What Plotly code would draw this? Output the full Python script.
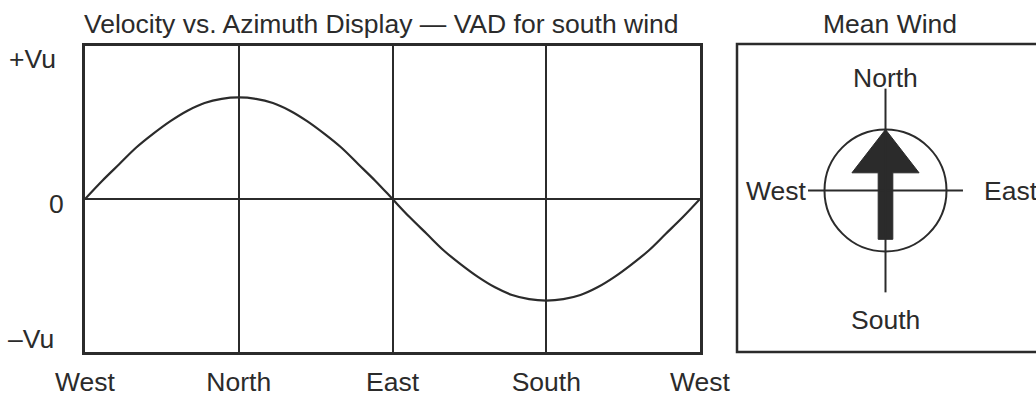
import plotly.graph_objects as go

# Azimuth samples (degrees, West = 0) and Doppler velocity (units of Vu)
azimuth_deg = [0, 10, 20, 30, 40, 50, 60, 70, 80, 90, 100, 110, 120, 130, 140, 150, 160, 170, 180,
               190, 200, 210, 220, 230, 240, 250, 260, 270, 280, 290, 300, 310, 320, 330, 340, 350, 360]
velocity_vu = [0.0, 0.13, 0.25, 0.37, 0.47, 0.56, 0.635, 0.69, 0.72, 0.73, 0.72, 0.69, 0.635,
               0.56, 0.47, 0.37, 0.25, 0.13, 0.0,
               -0.13, -0.25, -0.37, -0.47, -0.56, -0.635, -0.69, -0.72, -0.73, -0.72, -0.69, -0.635,
               -0.56, -0.47, -0.37, -0.25, -0.13, 0.0]

azimuth_ticks = [0, 90, 180, 270, 360]
azimuth_labels = ["West", "North", "East", "South", "West"]
velocity_ticks = [1.01, 0, -1.01]
velocity_labels = ["+Vu", "0", "–Vu"]

# Mean-wind compass (unit circle = wind speed)
compass_labels = ["North", "South", "West", "East"]
arrow_tip = 1.0
arrow_tail = -0.8
head_base = 0.29
head_half_width = 0.55
shaft_half_width = 0.12
arm_ew = 1.27
arm_ns = 1.67

INK = "#2b2b2b"
FONT = "Liberation Sans, Arial, sans-serif"
FS = 26.5
W, H = 1036, 397

fig = go.Figure()

fig.add_trace(go.Scatter(
    x=azimuth_deg, y=velocity_vu, mode="lines", line=dict(color=INK, width=2.2, shape="spline"),
    hoverinfo="skip", xaxis="x", yaxis="y"))

# Arrow polygon pointing north
ax_poly = [0, head_half_width, shaft_half_width, shaft_half_width, -shaft_half_width,
           -shaft_half_width, -head_half_width, 0]
ay_poly = [arrow_tip, head_base, head_base, arrow_tail, arrow_tail, head_base, head_base, arrow_tip]
fig.add_trace(go.Scatter(
    x=ax_poly, y=ay_poly, mode="lines", fill="toself", fillcolor=INK,
    line=dict(color=INK, width=1), hoverinfo="skip", xaxis="x2", yaxis="y2"))

# Cross arms
fig.add_trace(go.Scatter(x=[-arm_ew, arm_ew], y=[0, 0], mode="lines",
                         line=dict(color=INK, width=2), hoverinfo="skip", xaxis="x2", yaxis="y2"))
fig.add_trace(go.Scatter(x=[0, 0], y=[-arm_ns, arm_ns], mode="lines",
                         line=dict(color=INK, width=2), hoverinfo="skip", xaxis="x2", yaxis="y2"))

shapes = [
    dict(type="circle", xref="x2", yref="y2", x0=-1, y0=-1, x1=1, y1=1,
         line=dict(color=INK, width=2)),
    # Right panel frame (runs off the right edge)
    dict(type="rect", xref="paper", yref="paper", x0=737 / W, x1=1040 / W,
         y0=1 - 352 / H, y1=1 - 44 / H, line=dict(color=INK, width=2.5)),
]

annotations = [
    dict(text="Velocity vs. Azimuth Display — VAD for south wind", x=381 / W, y=1 - 24 / H,
         xref="paper", yref="paper", xanchor="center", yanchor="middle", showarrow=False,
         font=dict(size=FS, color=INK, family=FONT)),
    dict(text="Mean Wind", x=890 / W, y=1 - 24 / H, xref="paper", yref="paper",
         xanchor="center", yanchor="middle", showarrow=False,
         font=dict(size=FS, color=INK, family=FONT)),
]
label_x = [32 / W, 56 / W, 31 / W]
label_shift = [0, -5, 0]
for v, t, lx, sh in zip(velocity_ticks, velocity_labels, label_x, label_shift):
    annotations.append(dict(text=t, x=lx, y=v, xref="paper", yref="y", showarrow=False,
                            xanchor="center", yanchor="middle", yshift=sh,
                            font=dict(size=FS, color=INK, family=FONT)))

compass_pos = [(0, 1.84, "center"), (0, -2.12, "center"), (-1.25, 0, "right"), (1.58, 0, "left")]
for t, (cx, cy, anc) in zip(compass_labels, compass_pos):
    annotations.append(dict(text=t, x=cx, y=cy, xref="x2", yref="y2", showarrow=False,
                            xanchor=anc, yanchor="middle",
                            font=dict(size=FS, color=INK, family=FONT)))

fig.update_layout(
    width=W, height=H, margin=dict(l=0, r=0, t=0, b=0, pad=0, autoexpand=False),
    paper_bgcolor="white", plot_bgcolor="white", showlegend=False,
    shapes=shapes, annotations=annotations,
    xaxis=dict(domain=[85 / W, 700 / W], range=[0, 360], tickvals=azimuth_ticks,
               ticktext=azimuth_labels, showgrid=True, gridcolor=INK, gridwidth=2,
               zeroline=False, showline=True, linecolor=INK, linewidth=2.5, mirror=True,
               ticks="outside", ticklen=4, tickcolor="rgba(0,0,0,0)", automargin=False,
               tickfont=dict(size=FS, color=INK, family=FONT), fixedrange=True),
    yaxis=dict(domain=[1 - 352 / H, 1 - 46 / H], range=[-1.1, 1.1], showticklabels=False,
               showgrid=False, zeroline=True, zerolinecolor=INK, zerolinewidth=2, automargin=False,
               showline=True, linecolor=INK, linewidth=2.5, mirror=True, ticks="", fixedrange=True),
    xaxis2=dict(domain=[737 / W, 1.0], range=[-148.5 / 61, 150.5 / 61], visible=False,
                automargin=False, fixedrange=True),
    yaxis2=dict(domain=[1 - 352 / H, 1 - 45 / H], range=[-161.5 / 61, 145.5 / 61],
                visible=False, automargin=False, fixedrange=True),
)

fig.write_html("out.html")
